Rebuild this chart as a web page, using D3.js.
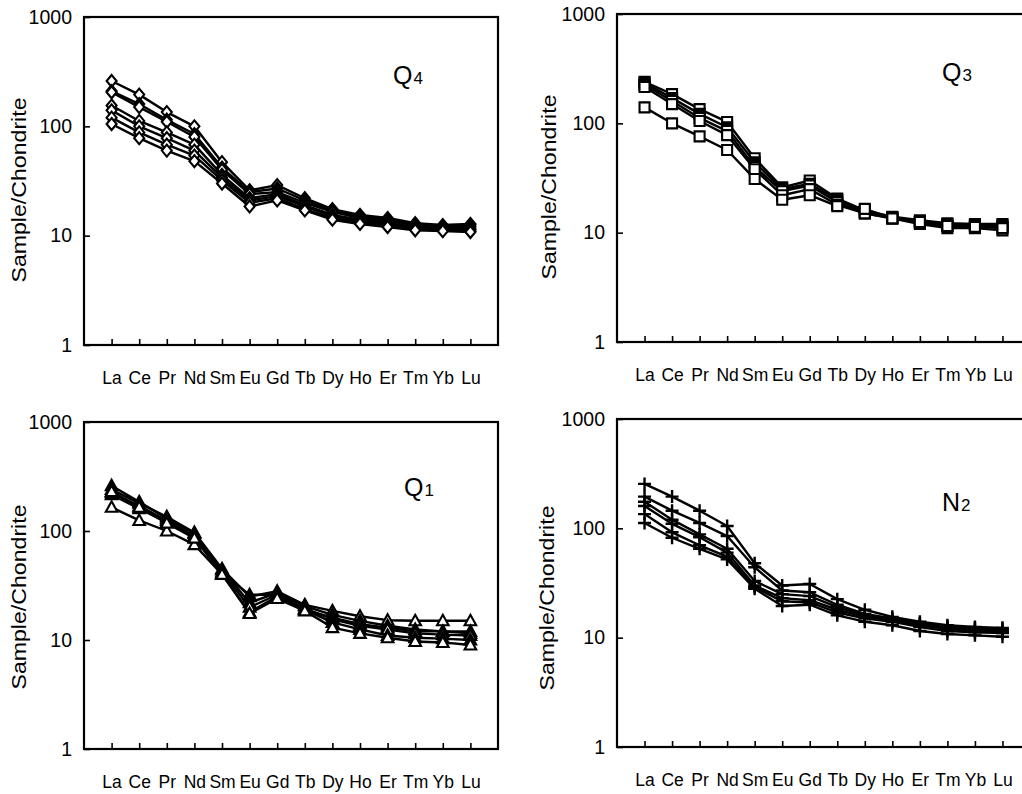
<!DOCTYPE html>
<html>
<head>
<meta charset="utf-8">
<script src="https://cdn.jsdelivr.net/npm/d3@7"></script>
<style>
body { margin: 0; background: #fff; }
text { font-family: "Liberation Sans", Arial, sans-serif; fill: #000; }
</style>
</head>
<body>
<script>
// REE chondrite-normalised patterns, four groups

const elements = ['La', 'Ce', 'Pr', 'Nd', 'Sm', 'Eu', 'Gd', 'Tb', 'Dy', 'Ho', 'Er', 'Tm', 'Yb', 'Lu'];
const yTicks = [1, 10, 100, 1000];
const yTitle = 'Sample/Chondrite';

const q4Values = [
  [260, 195, 135, 100, 47, 26, 29, 22, 17.5, 15.5, 14.5, 13, 12.5, 12.8],
  [210, 160, 115, 85, 42, 25, 27, 21, 17, 15, 14, 12.5, 12.3, 12.5],
  [205, 150, 110, 80, 40, 24, 25, 20, 16.5, 14.5, 13.5, 12.5, 12, 12],
  [155, 112, 88, 68, 36, 22, 24, 19, 15.5, 14, 13, 12, 11.8, 11.5],
  [140, 100, 78, 60, 34, 21, 23, 18.5, 15, 13.5, 12.5, 11.8, 11.5, 11.3],
  [120, 88, 68, 54, 32, 20, 22, 17.5, 14.5, 13, 12.2, 11.5, 11.3, 11],
  [105, 78, 60, 48, 30, 18.5, 21, 17, 14, 12.8, 12, 11.2, 11, 10.8]
];
const q4Filled = [false, true, false, false, false, false, false];

const q3Values = [
  [240, 185, 135, 103, 48, 26, 30, 20.5, 16, 14, 13, 12.2, 12, 12],
  [235, 170, 122, 92, 44, 25, 28, 20, 15.5, 13.8, 12.6, 12, 11.8, 11.7],
  [225, 160, 112, 85, 40, 24, 27, 19, 15, 13.5, 12.3, 11.5, 11.5, 11.3],
  [215, 150, 105, 78, 38, 22, 25, 18, 15, 13.5, 12, 11, 11, 10.5],
  [140, 100, 76, 57, 31, 20, 22, 17.5, 16.5, 13.5, 12.5, 11.5, 11.3, 11]
];
const q3Filled = [false, true, false, false, false];

const q1Values = [
  [165, 125, 100, 75, 40, 18, 25, 19, 16, 14, 13, 12, 12, 11.5],
  [240, 180, 135, 97, 45, 25, 28, 21, 18.5, 16.5, 15.2, 15, 15, 15],
  [260, 185, 130, 95, 44, 22, 27, 20.5, 17, 15, 13.5, 12.5, 12, 12],
  [225, 170, 125, 90, 42, 20, 26, 19.5, 15.5, 13.5, 12.5, 11.5, 11.2, 11],
  [215, 160, 120, 88, 41, 26, 26, 19, 14.5, 12.5, 11, 10.5, 10.3, 10],
  [230, 165, 118, 86, 40, 17.5, 24, 18.5, 13, 11.5, 10.5, 9.7, 9.5, 9]
];
const q1Filled = [false, false, true, false, true, false];

const n2Values = [
  [255, 195, 145, 105, 48, 30, 31, 22.5, 18, 15.5, 14, 13, 12.5, 12.3],
  [195, 145, 112, 85, 44, 27, 26, 20, 16.5, 15, 13.5, 12.5, 12.2, 12],
  [175, 120, 88, 65, 33, 25, 24, 19, 16, 14.5, 13.5, 12.5, 12, 11.5],
  [160, 110, 83, 60, 30, 23, 22, 18, 15.5, 14, 13, 12, 11.5, 11.2],
  [135, 92, 70, 55, 29, 21.5, 21, 17, 15, 14, 12.5, 11.5, 11.2, 11],
  [112, 82, 65, 52, 28, 19.5, 20, 16, 14, 13, 11.5, 10.8, 10.5, 10.2]
];
const n2Filled = [false, false, false, false, false, false];

const markerPaths = {
  diamond: 'M0,-6L5,0L0,6L-5,0Z',
  square: 'M-5,-5H5V5H-5Z',
  triangle: 'M0,-6L5.8,4.5L-5.8,4.5Z',
  plus: 'M-6.5,0H6.5M0,-6.5V6.5'
};

const panels = [
  {main: 'Q', sub: '4', values: q4Values, filled: q4Filled, marker: 'diamond',
   left: 84, right: 498, top: 17, bottom: 345, lx: 393, ly: 84, tx: 26, ty: 190},
  {main: 'Q', sub: '3', values: q3Values, filled: q3Filled, marker: 'square',
   left: 617, right: 1030, top: 14, bottom: 342, lx: 942, ly: 81, tx: 556, ty: 187},
  {main: 'Q', sub: '1', values: q1Values, filled: q1Filled, marker: 'triangle',
   left: 84, right: 498, top: 422, bottom: 749, lx: 404, ly: 496, tx: 26, ty: 597},
  {main: 'N', sub: '2', values: n2Values, filled: n2Filled, marker: 'plus',
   left: 617, right: 1030, top: 419, bottom: 747, lx: 942, ly: 511, tx: 554, ty: 598}
];

const svg = d3.select('body').append('svg')
  .attr('width', 1022)
  .attr('height', 794);

svg.append('rect').attr('width', 1022).attr('height', 794).attr('fill', '#fff');

for (const p of panels) {
  const g = svg.append('g');

  const x = d3.scalePoint()
    .domain(elements)
    .range([p.left, p.right])
    .padding(1);

  const y = d3.scaleLog()
    .domain([1, 1000])
    .range([p.bottom, p.top]);

  const line = d3.line()
    .x((d, i) => x(elements[i]))
    .y(d => y(d));

  p.values.forEach((row, k) => {
    g.append('path')
      .datum(row)
      .attr('fill', 'none')
      .attr('stroke', '#000')
      .attr('stroke-width', 2.4)
      .attr('stroke-linejoin', 'round')
      .attr('d', line);

    g.append('g').selectAll('path')
      .data(row)
      .join('path')
      .attr('transform', (d, i) => `translate(${x(elements[i])},${y(d)})`)
      .attr('d', markerPaths[p.marker])
      .attr('fill', p.marker === 'plus' ? 'none' : (p.filled[k] ? '#000' : '#fff'))
      .attr('stroke', '#000')
      .attr('stroke-width', p.marker === 'plus' ? 2.4 : 2.1);
  });

  const xAxis = g.append('g')
    .attr('transform', `translate(0,${p.bottom})`)
    .call(d3.axisBottom(x).tickSize(-6).tickPadding(27));
  xAxis.select('.domain').remove();
  xAxis.selectAll('line').attr('stroke-width', 1.6);
  xAxis.selectAll('text').attr('font-size', '17.5px').attr('font-family', null);

  const yAxis = g.append('g')
    .attr('transform', `translate(${p.left},0)`)
    .call(d3.axisLeft(y).tickValues(yTicks).tickFormat(d3.format('d')).tickSize(-6).tickPadding(12));
  yAxis.select('.domain').remove();
  yAxis.selectAll('line').attr('stroke-width', 1.6);
  yAxis.selectAll('text').attr('font-size', '19.5px').attr('font-family', null);

  g.append('rect')
    .attr('x', p.left)
    .attr('y', p.top)
    .attr('width', p.right - p.left)
    .attr('height', p.bottom - p.top)
    .attr('fill', 'none')
    .attr('stroke', '#000')
    .attr('stroke-width', 2.2);

  const label = g.append('text')
    .attr('x', p.lx)
    .attr('y', p.ly)
    .attr('font-size', '25px');
  label.append('tspan').text(p.main);
  label.append('tspan').attr('font-size', '17px').attr('dx', 1).text(p.sub);

  g.append('text')
    .attr('transform', `translate(${p.tx},${p.ty}) rotate(-90)`)
    .attr('text-anchor', 'middle')
    .attr('font-size', '20px')
    .attr('textLength', 185)
    .attr('lengthAdjust', 'spacingAndGlyphs')
    .text(yTitle);
}
</script>
</body>
</html>
